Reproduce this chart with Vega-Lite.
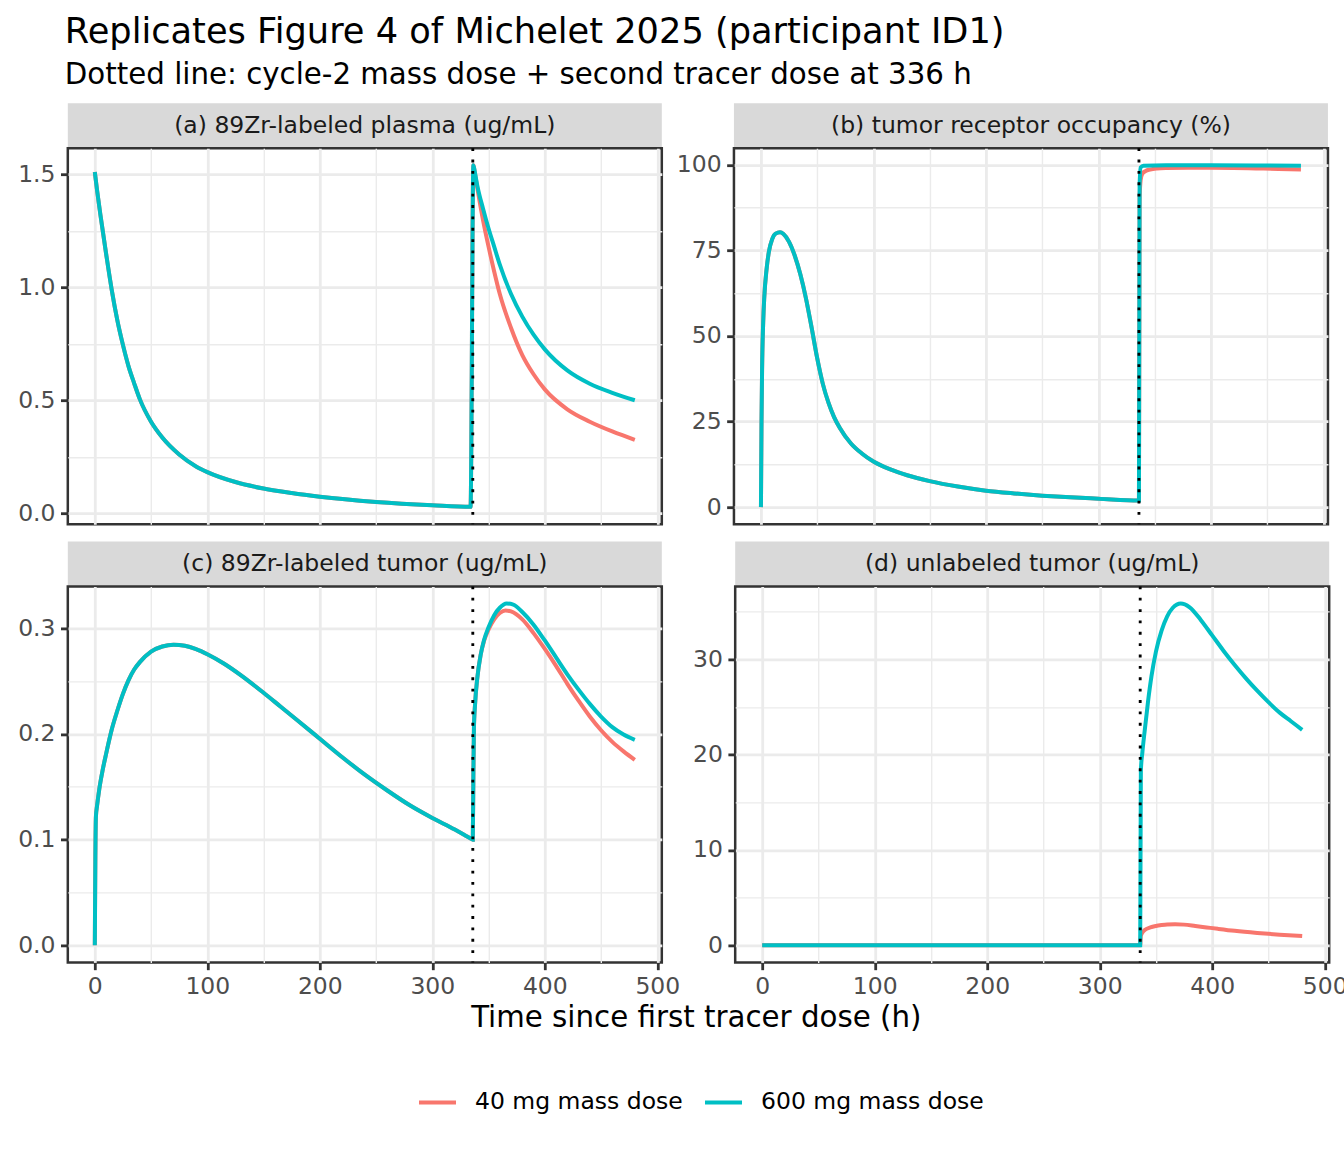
{
  "$schema": "https://vega.github.io/schema/vega-lite/v6.json",
  "padding": {"left": 15.8, "top": 14.2, "right": 0, "bottom": 0},
  "title": {
    "text": "Replicates Figure 4 of Michelet 2025 (participant ID1)",
    "subtitle": "Dotted line: cycle-2 mass dose + second tracer dose at 336 h",
    "anchor": "start", "frame": "group", "dx": -3,
    "fontSize": 35.2, "subtitleFontSize": 29.3,
    "fontWeight": "normal", "subtitleFontWeight": "normal",
    "color": "black", "subtitleColor": "black",
    "font": "DejaVu Sans", "subtitleFont": "DejaVu Sans",
    "baseline": "top", "offset": 13.25, "subtitlePadding": 10.8
  },
  "datasets": {
    "vline": [{"t": 336}],
    "curves": [
      {"p":"a","d":"40 mg mass dose","t":0,"v":1.51},
      {"p":"a","d":"40 mg mass dose","t":2,"v":1.43},
      {"p":"a","d":"40 mg mass dose","t":5,"v":1.32},
      {"p":"a","d":"40 mg mass dose","t":10,"v":1.15},
      {"p":"a","d":"40 mg mass dose","t":15,"v":0.99},
      {"p":"a","d":"40 mg mass dose","t":20,"v":0.855},
      {"p":"a","d":"40 mg mass dose","t":25,"v":0.745},
      {"p":"a","d":"40 mg mass dose","t":30,"v":0.65},
      {"p":"a","d":"40 mg mass dose","t":35,"v":0.575},
      {"p":"a","d":"40 mg mass dose","t":40,"v":0.505},
      {"p":"a","d":"40 mg mass dose","t":50,"v":0.405},
      {"p":"a","d":"40 mg mass dose","t":60,"v":0.335},
      {"p":"a","d":"40 mg mass dose","t":75,"v":0.26},
      {"p":"a","d":"40 mg mass dose","t":90,"v":0.207},
      {"p":"a","d":"40 mg mass dose","t":100,"v":0.182},
      {"p":"a","d":"40 mg mass dose","t":125,"v":0.138},
      {"p":"a","d":"40 mg mass dose","t":150,"v":0.109},
      {"p":"a","d":"40 mg mass dose","t":175,"v":0.089},
      {"p":"a","d":"40 mg mass dose","t":200,"v":0.073},
      {"p":"a","d":"40 mg mass dose","t":250,"v":0.05},
      {"p":"a","d":"40 mg mass dose","t":300,"v":0.035},
      {"p":"a","d":"40 mg mass dose","t":334,"v":0.028},
      {"p":"a","d":"40 mg mass dose","t":336.5,"v":1.54},
      {"p":"a","d":"40 mg mass dose","t":338,"v":1.5},
      {"p":"a","d":"40 mg mass dose","t":340,"v":1.44},
      {"p":"a","d":"40 mg mass dose","t":345,"v":1.3},
      {"p":"a","d":"40 mg mass dose","t":350,"v":1.18},
      {"p":"a","d":"40 mg mass dose","t":355,"v":1.07},
      {"p":"a","d":"40 mg mass dose","t":360,"v":0.97},
      {"p":"a","d":"40 mg mass dose","t":370,"v":0.82},
      {"p":"a","d":"40 mg mass dose","t":380,"v":0.7},
      {"p":"a","d":"40 mg mass dose","t":390,"v":0.615},
      {"p":"a","d":"40 mg mass dose","t":400,"v":0.548},
      {"p":"a","d":"40 mg mass dose","t":420,"v":0.46},
      {"p":"a","d":"40 mg mass dose","t":440,"v":0.405},
      {"p":"a","d":"40 mg mass dose","t":460,"v":0.362},
      {"p":"a","d":"40 mg mass dose","t":480,"v":0.325},

      {"p":"b","d":"40 mg mass dose","t":0,"v":0},
      {"p":"b","d":"40 mg mass dose","t":0.5,"v":25},
      {"p":"b","d":"40 mg mass dose","t":1,"v":40},
      {"p":"b","d":"40 mg mass dose","t":2,"v":54},
      {"p":"b","d":"40 mg mass dose","t":3,"v":61.5},
      {"p":"b","d":"40 mg mass dose","t":5,"v":69.5},
      {"p":"b","d":"40 mg mass dose","t":7,"v":74.5},
      {"p":"b","d":"40 mg mass dose","t":10,"v":78.3},
      {"p":"b","d":"40 mg mass dose","t":13,"v":79.9},
      {"p":"b","d":"40 mg mass dose","t":17,"v":80.3},
      {"p":"b","d":"40 mg mass dose","t":20,"v":79.8},
      {"p":"b","d":"40 mg mass dose","t":25,"v":77.5},
      {"p":"b","d":"40 mg mass dose","t":30,"v":73.5},
      {"p":"b","d":"40 mg mass dose","t":35,"v":68},
      {"p":"b","d":"40 mg mass dose","t":40,"v":61},
      {"p":"b","d":"40 mg mass dose","t":45,"v":52.5},
      {"p":"b","d":"40 mg mass dose","t":50,"v":43.5},
      {"p":"b","d":"40 mg mass dose","t":55,"v":36},
      {"p":"b","d":"40 mg mass dose","t":60,"v":30.5},
      {"p":"b","d":"40 mg mass dose","t":65,"v":26.3},
      {"p":"b","d":"40 mg mass dose","t":70,"v":23.2},
      {"p":"b","d":"40 mg mass dose","t":80,"v":18.6},
      {"p":"b","d":"40 mg mass dose","t":90,"v":15.6},
      {"p":"b","d":"40 mg mass dose","t":100,"v":13.3},
      {"p":"b","d":"40 mg mass dose","t":115,"v":11},
      {"p":"b","d":"40 mg mass dose","t":130,"v":9.3},
      {"p":"b","d":"40 mg mass dose","t":150,"v":7.6},
      {"p":"b","d":"40 mg mass dose","t":175,"v":6},
      {"p":"b","d":"40 mg mass dose","t":200,"v":4.8},
      {"p":"b","d":"40 mg mass dose","t":225,"v":4},
      {"p":"b","d":"40 mg mass dose","t":250,"v":3.35},
      {"p":"b","d":"40 mg mass dose","t":275,"v":2.85},
      {"p":"b","d":"40 mg mass dose","t":300,"v":2.45},
      {"p":"b","d":"40 mg mass dose","t":336,"v":1.9},
      {"p":"b","d":"40 mg mass dose","t":336.6,"v":90},
      {"p":"b","d":"40 mg mass dose","t":337.5,"v":95.5},
      {"p":"b","d":"40 mg mass dose","t":339,"v":97.4},
      {"p":"b","d":"40 mg mass dose","t":342,"v":98.2},
      {"p":"b","d":"40 mg mass dose","t":346,"v":98.6},
      {"p":"b","d":"40 mg mass dose","t":352,"v":98.9},
      {"p":"b","d":"40 mg mass dose","t":360,"v":99.05},
      {"p":"b","d":"40 mg mass dose","t":380,"v":99.15},
      {"p":"b","d":"40 mg mass dose","t":400,"v":99.15},
      {"p":"b","d":"40 mg mass dose","t":420,"v":99.1},
      {"p":"b","d":"40 mg mass dose","t":440,"v":98.95},
      {"p":"b","d":"40 mg mass dose","t":460,"v":98.8},
      {"p":"b","d":"40 mg mass dose","t":480,"v":98.6},

      {"p":"c","d":"40 mg mass dose","t":0,"v":0},
      {"p":"c","d":"40 mg mass dose","t":0.5,"v":0.085},
      {"p":"c","d":"40 mg mass dose","t":1,"v":0.122},
      {"p":"c","d":"40 mg mass dose","t":2,"v":0.132},
      {"p":"c","d":"40 mg mass dose","t":4,"v":0.148},
      {"p":"c","d":"40 mg mass dose","t":7,"v":0.166},
      {"p":"c","d":"40 mg mass dose","t":10,"v":0.181},
      {"p":"c","d":"40 mg mass dose","t":15,"v":0.204},
      {"p":"c","d":"40 mg mass dose","t":20,"v":0.222},
      {"p":"c","d":"40 mg mass dose","t":25,"v":0.238},
      {"p":"c","d":"40 mg mass dose","t":30,"v":0.251},
      {"p":"c","d":"40 mg mass dose","t":35,"v":0.261},
      {"p":"c","d":"40 mg mass dose","t":40,"v":0.268},
      {"p":"c","d":"40 mg mass dose","t":50,"v":0.278},
      {"p":"c","d":"40 mg mass dose","t":60,"v":0.2828},
      {"p":"c","d":"40 mg mass dose","t":70,"v":0.2845},
      {"p":"c","d":"40 mg mass dose","t":80,"v":0.2835},
      {"p":"c","d":"40 mg mass dose","t":90,"v":0.2803},
      {"p":"c","d":"40 mg mass dose","t":100,"v":0.2755},
      {"p":"c","d":"40 mg mass dose","t":115,"v":0.2665},
      {"p":"c","d":"40 mg mass dose","t":130,"v":0.2555},
      {"p":"c","d":"40 mg mass dose","t":150,"v":0.239},
      {"p":"c","d":"40 mg mass dose","t":165,"v":0.226},
      {"p":"c","d":"40 mg mass dose","t":180,"v":0.213},
      {"p":"c","d":"40 mg mass dose","t":200,"v":0.1955},
      {"p":"c","d":"40 mg mass dose","t":220,"v":0.178},
      {"p":"c","d":"40 mg mass dose","t":240,"v":0.1615},
      {"p":"c","d":"40 mg mass dose","t":260,"v":0.1465},
      {"p":"c","d":"40 mg mass dose","t":280,"v":0.1325},
      {"p":"c","d":"40 mg mass dose","t":300,"v":0.1205},
      {"p":"c","d":"40 mg mass dose","t":320,"v":0.1095},
      {"p":"c","d":"40 mg mass dose","t":330,"v":0.1035},
      {"p":"c","d":"40 mg mass dose","t":334,"v":0.1011},
      {"p":"c","d":"40 mg mass dose","t":336,"v":0.1},
      {"p":"c","d":"40 mg mass dose","t":336.5,"v":0.16},
      {"p":"c","d":"40 mg mass dose","t":337,"v":0.205},
      {"p":"c","d":"40 mg mass dose","t":338,"v":0.228},
      {"p":"c","d":"40 mg mass dose","t":340,"v":0.253},
      {"p":"c","d":"40 mg mass dose","t":343,"v":0.275},
      {"p":"c","d":"40 mg mass dose","t":346,"v":0.288},
      {"p":"c","d":"40 mg mass dose","t":350,"v":0.299},
      {"p":"c","d":"40 mg mass dose","t":355,"v":0.3085},
      {"p":"c","d":"40 mg mass dose","t":360,"v":0.3145},
      {"p":"c","d":"40 mg mass dose","t":365,"v":0.317},
      {"p":"c","d":"40 mg mass dose","t":370,"v":0.316},
      {"p":"c","d":"40 mg mass dose","t":380,"v":0.3085},
      {"p":"c","d":"40 mg mass dose","t":390,"v":0.2955},
      {"p":"c","d":"40 mg mass dose","t":400,"v":0.2805},
      {"p":"c","d":"40 mg mass dose","t":410,"v":0.2645},
      {"p":"c","d":"40 mg mass dose","t":420,"v":0.2475},
      {"p":"c","d":"40 mg mass dose","t":430,"v":0.2315},
      {"p":"c","d":"40 mg mass dose","t":440,"v":0.2165},
      {"p":"c","d":"40 mg mass dose","t":450,"v":0.2035},
      {"p":"c","d":"40 mg mass dose","t":460,"v":0.1925},
      {"p":"c","d":"40 mg mass dose","t":470,"v":0.1835},
      {"p":"c","d":"40 mg mass dose","t":480,"v":0.1755},

      {"p":"d","d":"40 mg mass dose","t":0,"v":0},
      {"p":"d","d":"40 mg mass dose","t":336,"v":0},
      {"p":"d","d":"40 mg mass dose","t":336.6,"v":1.0},
      {"p":"d","d":"40 mg mass dose","t":338,"v":1.35},
      {"p":"d","d":"40 mg mass dose","t":340,"v":1.6},
      {"p":"d","d":"40 mg mass dose","t":345,"v":1.88},
      {"p":"d","d":"40 mg mass dose","t":350,"v":2.03},
      {"p":"d","d":"40 mg mass dose","t":355,"v":2.12},
      {"p":"d","d":"40 mg mass dose","t":360,"v":2.18},
      {"p":"d","d":"40 mg mass dose","t":367,"v":2.2},
      {"p":"d","d":"40 mg mass dose","t":375,"v":2.17},
      {"p":"d","d":"40 mg mass dose","t":385,"v":2.03},
      {"p":"d","d":"40 mg mass dose","t":395,"v":1.88},
      {"p":"d","d":"40 mg mass dose","t":405,"v":1.73},
      {"p":"d","d":"40 mg mass dose","t":420,"v":1.52},
      {"p":"d","d":"40 mg mass dose","t":440,"v":1.3},
      {"p":"d","d":"40 mg mass dose","t":460,"v":1.12},
      {"p":"d","d":"40 mg mass dose","t":480,"v":0.97},

      {"p":"a","d":"600 mg mass dose","t":0,"v":1.51},
      {"p":"a","d":"600 mg mass dose","t":2,"v":1.43},
      {"p":"a","d":"600 mg mass dose","t":5,"v":1.32},
      {"p":"a","d":"600 mg mass dose","t":10,"v":1.15},
      {"p":"a","d":"600 mg mass dose","t":15,"v":0.99},
      {"p":"a","d":"600 mg mass dose","t":20,"v":0.855},
      {"p":"a","d":"600 mg mass dose","t":25,"v":0.745},
      {"p":"a","d":"600 mg mass dose","t":30,"v":0.65},
      {"p":"a","d":"600 mg mass dose","t":35,"v":0.575},
      {"p":"a","d":"600 mg mass dose","t":40,"v":0.505},
      {"p":"a","d":"600 mg mass dose","t":50,"v":0.405},
      {"p":"a","d":"600 mg mass dose","t":60,"v":0.335},
      {"p":"a","d":"600 mg mass dose","t":75,"v":0.26},
      {"p":"a","d":"600 mg mass dose","t":90,"v":0.207},
      {"p":"a","d":"600 mg mass dose","t":100,"v":0.182},
      {"p":"a","d":"600 mg mass dose","t":125,"v":0.138},
      {"p":"a","d":"600 mg mass dose","t":150,"v":0.109},
      {"p":"a","d":"600 mg mass dose","t":175,"v":0.089},
      {"p":"a","d":"600 mg mass dose","t":200,"v":0.073},
      {"p":"a","d":"600 mg mass dose","t":250,"v":0.05},
      {"p":"a","d":"600 mg mass dose","t":300,"v":0.035},
      {"p":"a","d":"600 mg mass dose","t":334,"v":0.028},
      {"p":"a","d":"600 mg mass dose","t":336.5,"v":1.54},
      {"p":"a","d":"600 mg mass dose","t":338,"v":1.505},
      {"p":"a","d":"600 mg mass dose","t":340,"v":1.45},
      {"p":"a","d":"600 mg mass dose","t":345,"v":1.35},
      {"p":"a","d":"600 mg mass dose","t":350,"v":1.26},
      {"p":"a","d":"600 mg mass dose","t":355,"v":1.18},
      {"p":"a","d":"600 mg mass dose","t":360,"v":1.1},
      {"p":"a","d":"600 mg mass dose","t":370,"v":0.97},
      {"p":"a","d":"600 mg mass dose","t":380,"v":0.87},
      {"p":"a","d":"600 mg mass dose","t":390,"v":0.79},
      {"p":"a","d":"600 mg mass dose","t":400,"v":0.725},
      {"p":"a","d":"600 mg mass dose","t":420,"v":0.632},
      {"p":"a","d":"600 mg mass dose","t":440,"v":0.573},
      {"p":"a","d":"600 mg mass dose","t":460,"v":0.533},
      {"p":"a","d":"600 mg mass dose","t":480,"v":0.5},

      {"p":"b","d":"600 mg mass dose","t":0,"v":0},
      {"p":"b","d":"600 mg mass dose","t":0.5,"v":25},
      {"p":"b","d":"600 mg mass dose","t":1,"v":40},
      {"p":"b","d":"600 mg mass dose","t":2,"v":54},
      {"p":"b","d":"600 mg mass dose","t":3,"v":61.5},
      {"p":"b","d":"600 mg mass dose","t":5,"v":69.5},
      {"p":"b","d":"600 mg mass dose","t":7,"v":74.5},
      {"p":"b","d":"600 mg mass dose","t":10,"v":78.3},
      {"p":"b","d":"600 mg mass dose","t":13,"v":79.9},
      {"p":"b","d":"600 mg mass dose","t":17,"v":80.3},
      {"p":"b","d":"600 mg mass dose","t":20,"v":79.8},
      {"p":"b","d":"600 mg mass dose","t":25,"v":77.5},
      {"p":"b","d":"600 mg mass dose","t":30,"v":73.5},
      {"p":"b","d":"600 mg mass dose","t":35,"v":68},
      {"p":"b","d":"600 mg mass dose","t":40,"v":61},
      {"p":"b","d":"600 mg mass dose","t":45,"v":52.5},
      {"p":"b","d":"600 mg mass dose","t":50,"v":43.5},
      {"p":"b","d":"600 mg mass dose","t":55,"v":36},
      {"p":"b","d":"600 mg mass dose","t":60,"v":30.5},
      {"p":"b","d":"600 mg mass dose","t":65,"v":26.3},
      {"p":"b","d":"600 mg mass dose","t":70,"v":23.2},
      {"p":"b","d":"600 mg mass dose","t":80,"v":18.6},
      {"p":"b","d":"600 mg mass dose","t":90,"v":15.6},
      {"p":"b","d":"600 mg mass dose","t":100,"v":13.3},
      {"p":"b","d":"600 mg mass dose","t":115,"v":11},
      {"p":"b","d":"600 mg mass dose","t":130,"v":9.3},
      {"p":"b","d":"600 mg mass dose","t":150,"v":7.6},
      {"p":"b","d":"600 mg mass dose","t":175,"v":6},
      {"p":"b","d":"600 mg mass dose","t":200,"v":4.8},
      {"p":"b","d":"600 mg mass dose","t":225,"v":4},
      {"p":"b","d":"600 mg mass dose","t":250,"v":3.35},
      {"p":"b","d":"600 mg mass dose","t":275,"v":2.85},
      {"p":"b","d":"600 mg mass dose","t":300,"v":2.45},
      {"p":"b","d":"600 mg mass dose","t":336,"v":1.9},
      {"p":"b","d":"600 mg mass dose","t":336.6,"v":94},
      {"p":"b","d":"600 mg mass dose","t":337.5,"v":99.2},
      {"p":"b","d":"600 mg mass dose","t":340,"v":99.7},
      {"p":"b","d":"600 mg mass dose","t":360,"v":99.85},
      {"p":"b","d":"600 mg mass dose","t":400,"v":99.85},
      {"p":"b","d":"600 mg mass dose","t":440,"v":99.8},
      {"p":"b","d":"600 mg mass dose","t":480,"v":99.7},

      {"p":"c","d":"600 mg mass dose","t":0,"v":0},
      {"p":"c","d":"600 mg mass dose","t":0.5,"v":0.085},
      {"p":"c","d":"600 mg mass dose","t":1,"v":0.122},
      {"p":"c","d":"600 mg mass dose","t":2,"v":0.132},
      {"p":"c","d":"600 mg mass dose","t":4,"v":0.148},
      {"p":"c","d":"600 mg mass dose","t":7,"v":0.166},
      {"p":"c","d":"600 mg mass dose","t":10,"v":0.181},
      {"p":"c","d":"600 mg mass dose","t":15,"v":0.204},
      {"p":"c","d":"600 mg mass dose","t":20,"v":0.222},
      {"p":"c","d":"600 mg mass dose","t":25,"v":0.238},
      {"p":"c","d":"600 mg mass dose","t":30,"v":0.251},
      {"p":"c","d":"600 mg mass dose","t":35,"v":0.261},
      {"p":"c","d":"600 mg mass dose","t":40,"v":0.268},
      {"p":"c","d":"600 mg mass dose","t":50,"v":0.278},
      {"p":"c","d":"600 mg mass dose","t":60,"v":0.2828},
      {"p":"c","d":"600 mg mass dose","t":70,"v":0.2845},
      {"p":"c","d":"600 mg mass dose","t":80,"v":0.2835},
      {"p":"c","d":"600 mg mass dose","t":90,"v":0.2803},
      {"p":"c","d":"600 mg mass dose","t":100,"v":0.2755},
      {"p":"c","d":"600 mg mass dose","t":115,"v":0.2665},
      {"p":"c","d":"600 mg mass dose","t":130,"v":0.2555},
      {"p":"c","d":"600 mg mass dose","t":150,"v":0.239},
      {"p":"c","d":"600 mg mass dose","t":165,"v":0.226},
      {"p":"c","d":"600 mg mass dose","t":180,"v":0.213},
      {"p":"c","d":"600 mg mass dose","t":200,"v":0.1955},
      {"p":"c","d":"600 mg mass dose","t":220,"v":0.178},
      {"p":"c","d":"600 mg mass dose","t":240,"v":0.1615},
      {"p":"c","d":"600 mg mass dose","t":260,"v":0.1465},
      {"p":"c","d":"600 mg mass dose","t":280,"v":0.1325},
      {"p":"c","d":"600 mg mass dose","t":300,"v":0.1205},
      {"p":"c","d":"600 mg mass dose","t":320,"v":0.1095},
      {"p":"c","d":"600 mg mass dose","t":330,"v":0.1035},
      {"p":"c","d":"600 mg mass dose","t":334,"v":0.1011},
      {"p":"c","d":"600 mg mass dose","t":336,"v":0.1},
      {"p":"c","d":"600 mg mass dose","t":336.5,"v":0.16},
      {"p":"c","d":"600 mg mass dose","t":337,"v":0.205},
      {"p":"c","d":"600 mg mass dose","t":338,"v":0.228},
      {"p":"c","d":"600 mg mass dose","t":340,"v":0.253},
      {"p":"c","d":"600 mg mass dose","t":343,"v":0.275},
      {"p":"c","d":"600 mg mass dose","t":346,"v":0.289},
      {"p":"c","d":"600 mg mass dose","t":350,"v":0.301},
      {"p":"c","d":"600 mg mass dose","t":355,"v":0.3125},
      {"p":"c","d":"600 mg mass dose","t":360,"v":0.3195},
      {"p":"c","d":"600 mg mass dose","t":366,"v":0.3235},
      {"p":"c","d":"600 mg mass dose","t":372,"v":0.3225},
      {"p":"c","d":"600 mg mass dose","t":380,"v":0.3155},
      {"p":"c","d":"600 mg mass dose","t":390,"v":0.3035},
      {"p":"c","d":"600 mg mass dose","t":400,"v":0.2885},
      {"p":"c","d":"600 mg mass dose","t":410,"v":0.2725},
      {"p":"c","d":"600 mg mass dose","t":420,"v":0.2565},
      {"p":"c","d":"600 mg mass dose","t":430,"v":0.242},
      {"p":"c","d":"600 mg mass dose","t":440,"v":0.2285},
      {"p":"c","d":"600 mg mass dose","t":450,"v":0.2165},
      {"p":"c","d":"600 mg mass dose","t":460,"v":0.2065},
      {"p":"c","d":"600 mg mass dose","t":470,"v":0.1995},
      {"p":"c","d":"600 mg mass dose","t":480,"v":0.1945},

      {"p":"d","d":"600 mg mass dose","t":0,"v":0},
      {"p":"d","d":"600 mg mass dose","t":336,"v":0},
      {"p":"d","d":"600 mg mass dose","t":336.6,"v":18.3},
      {"p":"d","d":"600 mg mass dose","t":338,"v":20.3},
      {"p":"d","d":"600 mg mass dose","t":340,"v":22.5},
      {"p":"d","d":"600 mg mass dose","t":343,"v":25.6},
      {"p":"d","d":"600 mg mass dose","t":346,"v":28.2},
      {"p":"d","d":"600 mg mass dose","t":350,"v":30.8},
      {"p":"d","d":"600 mg mass dose","t":355,"v":33},
      {"p":"d","d":"600 mg mass dose","t":360,"v":34.5},
      {"p":"d","d":"600 mg mass dose","t":365,"v":35.4},
      {"p":"d","d":"600 mg mass dose","t":372,"v":35.85},
      {"p":"d","d":"600 mg mass dose","t":380,"v":35.45},
      {"p":"d","d":"600 mg mass dose","t":390,"v":34.1},
      {"p":"d","d":"600 mg mass dose","t":400,"v":32.5},
      {"p":"d","d":"600 mg mass dose","t":410,"v":30.9},
      {"p":"d","d":"600 mg mass dose","t":420,"v":29.4},
      {"p":"d","d":"600 mg mass dose","t":430,"v":28},
      {"p":"d","d":"600 mg mass dose","t":440,"v":26.7},
      {"p":"d","d":"600 mg mass dose","t":450,"v":25.5},
      {"p":"d","d":"600 mg mass dose","t":460,"v":24.4},
      {"p":"d","d":"600 mg mass dose","t":470,"v":23.5},
      {"p":"d","d":"600 mg mass dose","t":480,"v":22.6}
    ]
  },
  "spacing": 14.2,
  "vconcat": [
    {
      "spacing": 11.15,
      "hconcat": [
        {
          "bounds": "flush", "spacing": 0,
          "vconcat": [
            {
              "width": 594, "height": 45,
              "data": {"values": [{"label": "(a) 89Zr-labeled plasma (ug/mL)"}]},
              "mark": {"type": "text", "fontSize": 23.5, "color": "#1a1a1a"},
              "encoding": {"text": {"field": "label"}},
              "view": {"fill": "#d9d9d9"}
            },
            {
              "width": 594, "height": 376,
              "data": {"name": "curves"},
              "transform": [{"filter": "datum.p === 'a'"}],
              "layer": [
                {
                  "mark": {"type": "line", "strokeWidth": 4, "interpolate": "monotone"},
                  "encoding": {
                    "x": {"field": "t", "type": "quantitative",
                      "scale": {"domain": [-24, 504], "nice": false, "zero": false},
                      "axis": {"title": null, "labels": false, "ticks": false,
                        "values": [0, 50, 100, 150, 200, 250, 300, 350, 400, 450, 500],
                        "gridWidth": {"condition": {"test": "datum.value % 100 !== 0", "value": 1.4}, "value": 2.8}}},
                    "y": {"field": "v", "type": "quantitative",
                      "scale": {"domain": [-0.0487, 1.6157], "nice": false, "zero": false},
                      "axis": {"title": null,
                        "values": [0, 0.25, 0.5, 0.75, 1, 1.25, 1.5],
                        "labelExpr": "round(datum.value * 4) % 2 === 1 ? '' : format(datum.value, '.1f')",
                        "gridWidth": {"condition": {"test": "round(datum.value * 4) % 2 === 1", "value": 1.4}, "value": 2.8},
                        "tickOpacity": {"condition": {"test": "round(datum.value * 4) % 2 === 1", "value": 0}, "value": 1}}},
                    "color": {"field": "d", "type": "nominal", "title": null,
                      "scale": {"domain": ["40 mg mass dose", "600 mg mass dose"], "range": ["#F8766D", "#00BFC4"]}}
                  }
                },
                {
                  "data": {"name": "vline"},
                  "mark": {"type": "rule", "color": "black", "strokeWidth": 2.84, "strokeDash": [2.84, 8.53]},
                  "encoding": {"x": {"field": "t", "type": "quantitative"}}
                }
              ]
            }
          ]
        },
        {
          "bounds": "flush", "spacing": 0,
          "vconcat": [
            {
              "width": 594, "height": 45,
              "data": {"values": [{"label": "(b) tumor receptor occupancy (%)"}]},
              "mark": {"type": "text", "fontSize": 23.5, "color": "#1a1a1a"},
              "encoding": {"text": {"field": "label"}},
              "view": {"fill": "#d9d9d9"}
            },
            {
              "width": 594, "height": 376,
              "data": {"name": "curves"},
              "transform": [{"filter": "datum.p === 'b'"}],
              "layer": [
                {
                  "mark": {"type": "line", "strokeWidth": 4, "interpolate": "monotone"},
                  "encoding": {
                    "x": {"field": "t", "type": "quantitative",
                      "scale": {"domain": [-24, 504], "nice": false, "zero": false},
                      "axis": {"title": null, "labels": false, "ticks": false,
                        "values": [0, 50, 100, 150, 200, 250, 300, 350, 400, 450, 500],
                        "gridWidth": {"condition": {"test": "datum.value % 100 !== 0", "value": 1.4}, "value": 2.8}}},
                    "y": {"field": "v", "type": "quantitative",
                      "scale": {"domain": [-4.99, 104.85], "nice": false, "zero": false},
                      "axis": {"title": null,
                        "values": [0, 12.5, 25, 37.5, 50, 62.5, 75, 87.5, 100],
                        "labelExpr": "datum.value % 25 !== 0 ? '' : format(datum.value, 'd')",
                        "gridWidth": {"condition": {"test": "datum.value % 25 !== 0", "value": 1.4}, "value": 2.8},
                        "tickOpacity": {"condition": {"test": "datum.value % 25 !== 0", "value": 0}, "value": 1}}},
                    "color": {"field": "d", "type": "nominal", "title": null,
                      "scale": {"domain": ["40 mg mass dose", "600 mg mass dose"], "range": ["#F8766D", "#00BFC4"]}}
                  }
                },
                {
                  "data": {"name": "vline"},
                  "mark": {"type": "rule", "color": "black", "strokeWidth": 2.84, "strokeDash": [2.84, 8.53]},
                  "encoding": {"x": {"field": "t", "type": "quantitative"}}
                }
              ]
            }
          ]
        }
      ]
    },
    {
      "spacing": 9.4,
      "title": {
        "text": "Time since first tracer dose (h)",
        "orient": "bottom", "anchor": "middle", "frame": "bounds", "dx": 13.9,
        "fontSize": 29.3, "fontWeight": "normal", "color": "black",
        "font": "DejaVu Sans", "baseline": "top", "offset": 5
      },
      "hconcat": [
        {
          "bounds": "flush", "spacing": 0,
          "vconcat": [
            {
              "width": 594, "height": 45,
              "data": {"values": [{"label": "(c) 89Zr-labeled tumor (ug/mL)"}]},
              "mark": {"type": "text", "fontSize": 23.5, "color": "#1a1a1a"},
              "encoding": {"text": {"field": "label"}},
              "view": {"fill": "#d9d9d9"}
            },
            {
              "width": 594, "height": 376,
              "data": {"name": "curves"},
              "transform": [{"filter": "datum.p === 'c'"}],
              "layer": [
                {
                  "mark": {"type": "line", "strokeWidth": 4, "interpolate": "monotone"},
                  "encoding": {
                    "x": {"field": "t", "type": "quantitative",
                      "scale": {"domain": [-24, 504], "nice": false, "zero": false},
                      "axis": {"title": null,
                        "values": [0, 50, 100, 150, 200, 250, 300, 350, 400, 450, 500],
                        "labelExpr": "datum.value % 100 !== 0 ? '' : format(datum.value, 'd')",
                        "gridWidth": {"condition": {"test": "datum.value % 100 !== 0", "value": 1.4}, "value": 2.8},
                        "tickOpacity": {"condition": {"test": "datum.value % 100 !== 0", "value": 0}, "value": 1}}},
                    "y": {"field": "v", "type": "quantitative",
                      "scale": {"domain": [-0.0162, 0.3397], "nice": false, "zero": false},
                      "axis": {"title": null,
                        "values": [0, 0.05, 0.1, 0.15, 0.2, 0.25, 0.3],
                        "labelExpr": "round(datum.value * 20) % 2 === 1 ? '' : format(datum.value, '.1f')",
                        "gridWidth": {"condition": {"test": "round(datum.value * 20) % 2 === 1", "value": 1.4}, "value": 2.8},
                        "tickOpacity": {"condition": {"test": "round(datum.value * 20) % 2 === 1", "value": 0}, "value": 1}}},
                    "color": {"field": "d", "type": "nominal", "title": null,
                      "scale": {"domain": ["40 mg mass dose", "600 mg mass dose"], "range": ["#F8766D", "#00BFC4"]}}
                  }
                },
                {
                  "data": {"name": "vline"},
                  "mark": {"type": "rule", "color": "black", "strokeWidth": 2.84, "strokeDash": [2.84, 8.53]},
                  "encoding": {"x": {"field": "t", "type": "quantitative"}}
                }
              ]
            }
          ]
        },
        {
          "bounds": "flush", "spacing": 0,
          "vconcat": [
            {
              "width": 594, "height": 45,
              "data": {"values": [{"label": "(d) unlabeled tumor (ug/mL)"}]},
              "mark": {"type": "text", "fontSize": 23.5, "color": "#1a1a1a"},
              "encoding": {"text": {"field": "label"}},
              "view": {"fill": "#d9d9d9"}
            },
            {
              "width": 594, "height": 376,
              "data": {"name": "curves"},
              "transform": [{"filter": "datum.p === 'd'"}],
              "layer": [
                {
                  "mark": {"type": "line", "strokeWidth": 4, "interpolate": "monotone"},
                  "encoding": {
                    "x": {"field": "t", "type": "quantitative",
                      "scale": {"domain": [-24, 504], "nice": false, "zero": false},
                      "axis": {"title": null,
                        "values": [0, 50, 100, 150, 200, 250, 300, 350, 400, 450, 500],
                        "labelExpr": "datum.value % 100 !== 0 ? '' : format(datum.value, 'd')",
                        "gridWidth": {"condition": {"test": "datum.value % 100 !== 0", "value": 1.4}, "value": 2.8},
                        "tickOpacity": {"condition": {"test": "datum.value % 100 !== 0", "value": 0}, "value": 1}}},
                    "y": {"field": "v", "type": "quantitative",
                      "scale": {"domain": [-1.79, 37.64], "nice": false, "zero": false},
                      "axis": {"title": null,
                        "values": [0, 5, 10, 15, 20, 25, 30, 35],
                        "labelExpr": "datum.value % 10 !== 0 ? '' : format(datum.value, 'd')",
                        "gridWidth": {"condition": {"test": "datum.value % 10 !== 0", "value": 1.4}, "value": 2.8},
                        "tickOpacity": {"condition": {"test": "datum.value % 10 !== 0", "value": 0}, "value": 1}}},
                    "color": {"field": "d", "type": "nominal", "title": null,
                      "scale": {"domain": ["40 mg mass dose", "600 mg mass dose"], "range": ["#F8766D", "#00BFC4"]}}
                  }
                },
                {
                  "data": {"name": "vline"},
                  "mark": {"type": "rule", "color": "black", "strokeWidth": 2.84, "strokeDash": [2.84, 8.53]},
                  "encoding": {"x": {"field": "t", "type": "quantitative"}}
                }
              ]
            }
          ]
        }
      ]
    }
  ],
  "config": {
    "font": "DejaVu Sans",
    "view": {"stroke": "#333333", "strokeWidth": 2.5},
    "axis": {
      "domain": false, "grid": true, "gridColor": "#ebebeb",
      "tickColor": "#333333", "tickWidth": 2.8, "tickSize": 7.3,
      "labelColor": "#4d4d4d", "labelFontSize": 23.5, "labelFont": "DejaVu Sans",
      "labelFlush": false, "labelOverlap": false
    },
    "axisX": {"labelPadding": 4.5},
    "axisY": {"labelPadding": 5.5},
    "legend": {
      "orient": "none", "legendX": 349.2, "legendY": 978.75,
      "direction": "horizontal", "symbolType": "stroke", "symbolSize": 1369,
      "symbolStrokeWidth": 4, "labelFontSize": 23.5, "labelColor": "black",
      "labelFont": "DejaVu Sans", "labelOffset": 17, "labelLimit": 500,
      "columnPadding": 14, "padding": 0
    }
  }
}
